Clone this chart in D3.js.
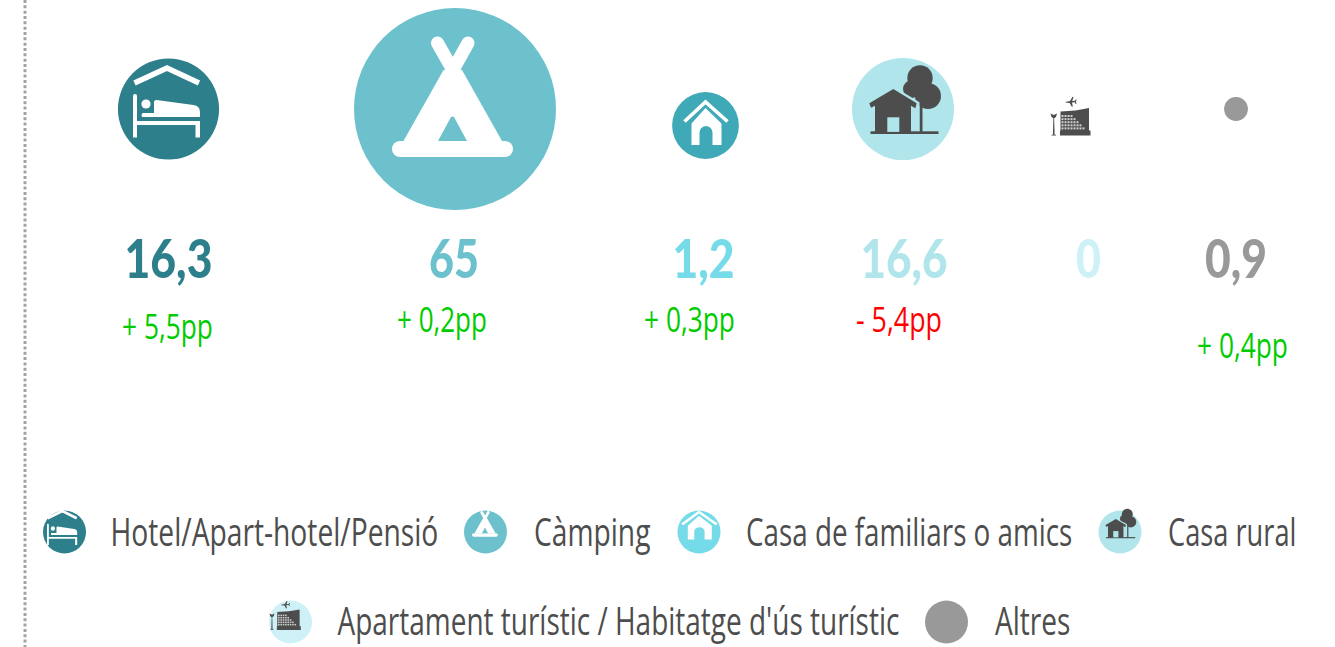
<!DOCTYPE html>
<html><head><meta charset="utf-8">
<script src="https://d3js.org/d3.v7.min.js"></script>
<style>html,body{margin:0;padding:0;background:#fff;overflow:hidden}svg{display:block}text{font-family:"Lato","Noto Sans",sans-serif}text.thin{font-family:"Open Sans","Noto Sans",sans-serif}</style>
</head><body><div id="chart"></div>
<script>
// ---- data ----
const categories = ["Hotel/Apart-hotel/Pensió","Càmping","Casa de familiars o amics","Casa rural","Apartament turístic / Habitatge d'ús turístic","Altres"];
const iconKeys   = ["hotel","camping","family","rural","apartment","other"];
const shares     = [16.3,65,1.2,16.6,0,0.9];
const shareLabels= ["16,3","65","1,2","16,6","0","0,9"];
const bubbleAreas= [16.3,65,7.1,16.6,0,0.9];   // drawn area of each bubble (the family bubble is drawn larger than its share)
const changes    = [5.5,0.2,0.3,-5.4,null,0.4];
const changeLabels=["+ 5,5pp","+ 0,2pp","+ 0,3pp","- 5,4pp","","+ 0,4pp"];

// ---- layout and style, separate from the data ----
const W=1335,H=647;
const colors=d3.scaleOrdinal(categories,["#2e7f8c","#6cc1cd","#75dbe9","#b0e6eb","#cdf1f6","#999999"]);
const bubbleColors=d3.scaleOrdinal(categories,["#2e7f8c","#6cc1cd","#3fa9b7","#b0e6eb","#cdf1f6","#999999"]);
const cx=d3.scaleOrdinal(categories,[168.5,455,705.5,903,1071,1236]);
const cy=d3.scaleOrdinal(categories,[109,109,125.5,109,117.5,109]);
const r=d3.scaleSqrt().domain([0,65]).range([0,101]);
const valX=d3.scaleOrdinal(categories,[[124.5,88],[429,50],[672.5,62],[860.5,87],[1076,25],[1205,62]]);
const chgX=d3.scaleOrdinal(categories,[[122,91,339],[397,90,332],[644,91,332],[856,86,332],[0,0,0],[1197,91,358]]);
const legend=d3.scaleOrdinal(categories,[
 {cx:64.5,cy:532,tx:110.5,tw:328,by:546},{cx:485.5,cy:532,tx:534,tw:116.5,by:546},
 {cx:699,cy:532,tx:746,tw:326.5,by:546},{cx:1120,cy:532,tx:1168,tw:128.5,by:546},
 {cx:290.5,cy:622,tx:337.5,tw:562,by:635},{cx:946.5,cy:622,tx:995,tw:75.5,by:635}]);
// [x scale, y scale, x shift, y shift] of the glyph in each legend disc
const legendIcon={hotel:[.45,.49,-1.5,-1],camping:[.213,.213,0,-5.5],family:[.8,.64,0,-5],rural:[.43,.43,0,-4.5],apartment:[.785,.75,-5,-5.5],other:[0,0,0,0]};

// squeeze a text to its target width with a real transform, so its box is its drawn width
function fit(sel,x,y,w){
  sel.attr("transform",function(d){
    const n=this.getComputedTextLength();
    return `translate(${x(d)},${y(d)}) scale(${w(d)/n},1)`;
  });
}

// icon glyphs, local units, centred on the bubble
const glyphs={
 hotel(g,bg){
  const c="#fff";
  g.append("path").attr("d","M-34,-26L-1.5,-41L30.5,-26").attr("fill","none").attr("stroke",c).attr("stroke-width",5.5);
  g.append("path").attr("fill",c).attr("d","M-35.5,-13a2,2 0 0 1 4,0V12H31.5V28.5H27V16H-31.5V28.5H-35.5Z");
  g.append("path").attr("fill",c).attr("d","M-14.5,-7Q-14.5,-9 -12,-9L25,-4Q31.5,-3 31.5,3V8H-26Q-28,7 -26,4H-14.5Z");
  g.append("circle").attr("cx",-22.5).attr("cy",-5).attr("r",4.6).attr("fill",c);
 },
 camping(g,bg){
  const c="#fff";
  g.append("path").attr("fill",c).attr("d","M-11.5,-39L-51.5,32H47L7,-39Z");
  g.append("path").attr("stroke",c).attr("stroke-width",13).attr("stroke-linecap","round").attr("d","M-17.5,-66L3,-30M13,-66L-7,-30");
  g.append("path").attr("stroke",c).attr("stroke-width",16).attr("stroke-linecap","round").attr("d","M-55,40H50");
  g.append("path").attr("fill",bg).attr("d","M-17,32L-4,8Q-2.5,7 -1,8L12,32Z");
 },
 family(g,bg){
  const c="#fff";
  g.append("path").attr("fill","none").attr("stroke",c).attr("stroke-width",3.6).attr("d","M-21,-4L0,-23.5L22,-4");
  g.append("path").attr("fill",c).attr("fill-rule","evenodd").attr("d","M-14,19.5V-2L0,-17.5L16,-2V19.5H7V7A6.3,6.3 0 0 0 -6,7V19.5Z");
 },
 rural(g,bg){
  const c="#4d4d4d";
  g.append("circle").attr("cx",17).attr("cy",-31).attr("r",12.7).attr("fill",c);
  g.append("circle").attr("cx",25).attr("cy",-13).attr("r",13).attr("fill",c);
  g.append("circle").attr("cx",9).attr("cy",-20).attr("r",9).attr("fill",c);
  g.append("rect").attr("x",16.5).attr("y",-8).attr("width",3).attr("height",32).attr("fill",c);
  g.append("path").attr("fill",bg).attr("stroke",bg).attr("stroke-width",3).attr("d","M-9.7,-21L15,-6V22H-9.7Z");
  g.append("rect").attr("x",-32.5).attr("y",22.3).attr("width",68).attr("height",2.7).attr("fill",c);
  g.append("path").attr("fill",c).attr("d","M-9.7,-20L13.7,-5.7L12.3,-0.7L8,-3.2V23H-28V-3.2L-32,-1.3L-33.7,-5.7Z");
  g.append("rect").attr("x",-15.7).attr("y",8.3).attr("width",12).attr("height",14.6).attr("fill",bg);
 },
 apartment(g,bg){
  const c="#4d4d4d";
  g.append("path").attr("fill",c).attr("d","M-10.5,-6Q5,-6.5 18,-9.5V13H19.5V18H-11V13H-10.5Z");
  const rows=d3.range(5), cols=d3.range(8);
  rows.forEach(i=>cols.forEach(j=>{ if(j<=3+i){
    g.append("rect").attr("x",-9.5+j*3).attr("y",-2.5+i*3.1).attr("width",2).attr("height",2).attr("fill","#cfcfcf");
  }}));
  g.append("path").attr("fill",c).attr("d","M-17.6,-0.5L-16.9,-0.5L-16.4,17.2H-15V18H-19.5V17.2H-18.1Z");
  g.append("path").attr("fill",c).attr("d","M-20.5,-4L-17.2,-2.5L-14,-4L-15,-0.5L-17.2,1L-19.5,-0.5Z");
  g.append("path").attr("fill",c).attr("d","M-5.6,-15.6L-1,-16.6L1.5,-20.7L2.5,-20.2L1.2,-16.4L4,-16.8L5,-18.2L5.6,-18L5,-15.7L5.4,-13.6L4.7,-13.6L3.8,-15.2L1,-15L1.8,-11L0.8,-10.8L-1.3,-14.6L-5.4,-14.9Z");
 },
 other(){}
};

const svg=d3.select("#chart").append("svg").attr("width",W).attr("height",H);

svg.append("line").attr("x1",25).attr("x2",25).attr("y1",0).attr("y2",H)
  .attr("stroke","#a3a3a3").attr("stroke-width",3).attr("stroke-dasharray","3,2.33");

const rows=categories.map((c,i)=>({c,key:iconKeys[i],share:shares[i],area:bubbleAreas[i],label:shareLabels[i],chg:changes[i],chgLabel:changeLabels[i]}));

// bubbles
const bubbles=svg.selectAll("g.bubble").data(rows).join("g").attr("class","bubble")
  .attr("transform",d=>`translate(${cx(d.c)},${cy(d.c)})`);
bubbles.filter(d=>d.area>0).append("circle").attr("r",d=>r(d.area)).attr("fill",d=>bubbleColors(d.c));
bubbles.each(function(d){glyphs[d.key](d3.select(this),bubbleColors(d.c));});

// value labels
svg.selectAll("text.val").data(rows).join("text").attr("class","val")
  .attr("font-size",54).attr("font-weight",900).attr("fill",d=>colors(d.c)).text(d=>d.label)
  .call(fit,d=>valX(d.c)[0],()=>278,d=>valX(d.c)[1]);

// change labels
svg.selectAll("text.chg").data(rows.filter(d=>d.chg!==null)).join("text").attr("class","chg thin")
  .attr("font-size",35).attr("fill",d=>d.chg>=0?"#00cc00":"#ff0000").text(d=>d.chgLabel)
  .call(fit,d=>chgX(d.c)[0],d=>chgX(d.c)[2],d=>chgX(d.c)[1]);

// legend
const lg=svg.selectAll("g.leg").data(rows).join("g").attr("class","leg");
lg.append("circle").attr("cx",d=>legend(d.c).cx).attr("cy",d=>legend(d.c).cy).attr("r",21.5).attr("fill",d=>colors(d.c));
lg.each(function(d){
  const s=legendIcon[d.key], l=legend(d.c);
  const g=d3.select(this).append("g").attr("transform",`translate(${l.cx+s[2]},${l.cy+s[3]}) scale(${s[0]},${s[1]})`);
  glyphs[d.key](g,colors(d.c));
});
lg.append("text").attr("class","thin").attr("font-size",37.5).attr("fill","#4d4d4d").text(d=>d.c)
  .call(fit,d=>legend(d.c).tx,d=>legend(d.c).by,d=>legend(d.c).tw);
</script></body></html>
